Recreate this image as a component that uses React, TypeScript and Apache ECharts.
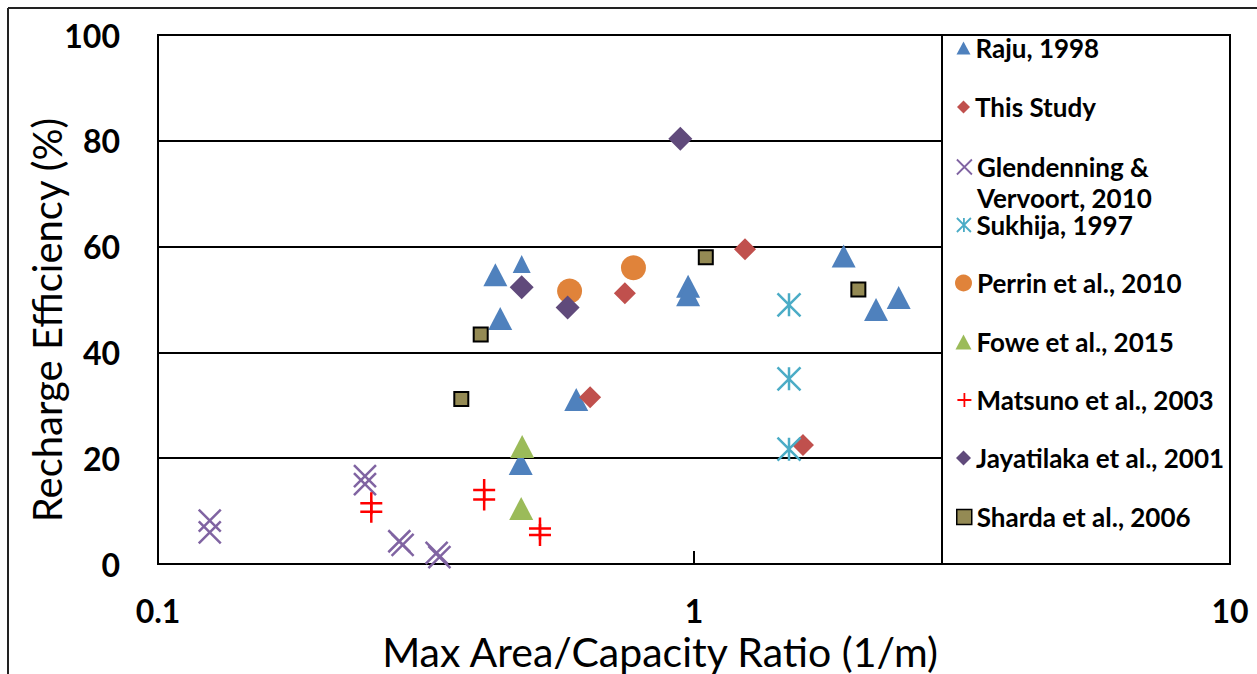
import React, { useEffect, useRef } from "react";
import * as echarts from "echarts";

// ---- data (x = Max Area/Capacity Ratio, y = Recharge Efficiency %) ----
const raju = [
  [0.426, 54.7], [0.477, 56.7], [0.435, 46.4], [0.475, 19.0], [0.603, 31.1],
  [0.975, 52.5], [0.975, 50.9], [1.902, 58.2], [2.186, 48.1], [2.409, 50.4],
];
const thisStudy = [[0.743, 51.2], [0.64, 31.5], [1.245, 59.5], [1.597, 22.5]];
const glendenning = [
  [0.1249, 8.2], [0.1249, 6.0], [0.2433, 16.6], [0.2433, 15.1],
  [0.282, 4.3], [0.286, 3.6], [0.331, 2.1], [0.335, 1.3],
];
const sukhija = [[1.504, 49.0], [1.504, 35.0], [1.504, 21.7]];
const perrin = [[0.586, 51.6], [0.771, 56.0]];
const fowe = [[0.478, 22.2], [0.476, 10.5]];
const matsuno = [
  [0.25, 11.5], [0.25, 9.9], [0.406, 14.0], [0.406, 12.2], [0.516, 6.7], [0.516, 5.5],
];
const jayatilaka = [[0.477, 52.3], [0.581, 48.5], [0.943, 80.4]];
const sharda = [[0.4, 43.4], [0.368, 31.2], [1.052, 58.0], [2.026, 51.9]];

const seriesNames = [
  "Raju, 1998",
  "This Study",
  "Glendenning & Vervoort, 2010",
  "Sukhija, 1997",
  "Perrin et al., 2010",
  "Fowe et al., 2015",
  "Matsuno et al., 2003",
  "Jayatilaka et al., 2001",
  "Sharda et al., 2006",
];
const legendLabels = [
  "Raju, 1998",
  "This Study",
  "Glendenning &",
  "Sukhija, 1997",
  "Perrin et al., 2010",
  "Fowe et al., 2015",
  "Matsuno et al., 2003",
  "Jayatilaka et al., 2001",
  "Sharda et al., 2006",
];
const yTitle = "Recharge Efficiency (%)";
const xTitle = "Max Area/Capacity Ratio (1/m)";

const CROSS = "path://M0,0L10,10M10,0L0,10";
const PLUS = "path://M5,0L5,10M0,5L10,5";
const STAR = "path://M0,0L10,10M10,0L0,10M5,0L5,10";

const FONT = "Lato, 'Open Sans', sans-serif";

export default function App() {
  const ref = useRef<HTMLDivElement>(null);
  useEffect(() => {
    if (!ref.current) return;
    const chart = echarts.init(ref.current, undefined, { renderer: "svg" });

    const seriesDefs: any[] = [
      { data: raju, symbol: "triangle", symbolSize: [24, 23], color: "#4F81BD",
        legend: { w: 14, h: 13 } },
      { data: thisStudy, symbol: "diamond", symbolSize: 22, color: "#C0504D",
        legend: { w: 13, h: 13 } },
      { data: glendenning, symbol: CROSS, symbolSize: 22, color: "#8064A2", stroke: 2.5,
        legend: { w: 15, h: 15, bw: 1.8 } },
      { data: sukhija, symbol: STAR, symbolSize: 23, color: "#4BACC6", stroke: 2.5,
        legend: { w: 15, h: 14, bw: 1.8 } },
      { data: perrin, symbol: "circle", symbolSize: 25, color: "#E0833A",
        legend: { w: 17, h: 17 } },
      { data: fowe, symbol: "triangle", symbolSize: [24, 23], color: "#9BBB59",
        legend: { w: 16, h: 15 } },
      { data: matsuno, symbol: PLUS, symbolSize: 22, color: "#FF0000", stroke: 2.5,
        legend: { w: 14, h: 14, bw: 1.8 } },
      { data: jayatilaka, symbol: "diamond", symbolSize: 24, color: "#604A7B",
        legend: { w: 15, h: 15 } },
      { data: sharda, symbol: "rect", symbolSize: 14, color: "#948A54", border: "#000", stroke: 2,
        legend: { w: 15, h: 15, bw: 1.5 } },
    ];

    const legendCenters = [48, 107, 167, 225, 283, 342, 400, 458, 517];

    const series = seriesDefs.map((s, i) => ({
      type: "scatter",
      name: seriesNames[i],
      data: s.data.map((d: number[], j: number) =>
        i === 0 && j === 1 ? { value: d, symbolSize: [18, 18] } : d
      ),
      symbol: s.symbol,
      symbolSize: s.symbolSize,
      itemStyle: {
        color: s.color,
        opacity: 1,
        borderColor: s.stroke ? s.border || s.color : undefined,
        borderWidth: s.stroke || 0,
      },
      emphasis: { disabled: true },
    }));

    const legends = seriesDefs.map((s, i) => ({
      show: true,
      orient: "vertical",
      left: 963.5 - s.legend.w / 2,
      top: legendCenters[i] - 15,
      padding: 0,
      itemGap: 0,
      z: 10,
      selectedMode: false,
      itemWidth: s.legend.w,
      itemHeight: s.legend.h,
      itemStyle: {
        color: s.color,
        opacity: 1,
        borderColor: s.stroke ? s.border || s.color : s.color,
        borderWidth: s.legend.bw || 0,
      },
      formatter: () => legendLabels[i],
      textStyle: {
        fontFamily: FONT,
        fontWeight: "bold",
        fontSize: 26,
        lineHeight: 30,
        color: "#000",
      },
      data: [{ name: seriesNames[i] }],
    }));

    const option: any = {
      animation: false,
      backgroundColor: "#fff",
      grid: {
        left: 158,
        right: 27,
        top: 35,
        bottom: 110,
        show: true,
        borderColor: "#000",
        borderWidth: 2,
        backgroundColor: "transparent",
        outerBoundsMode: "none",
      },
      xAxis: {
        type: "log",
        logBase: 10,
        min: 0.1,
        max: 10,
        axisLine: { show: true, lineStyle: { color: "#000", width: 2 } },
        axisTick: { show: true, inside: true, length: 13, lineStyle: { color: "#000", width: 2 } },
        minorTick: { show: false },
        splitLine: { show: false },
        axisLabel: {
          margin: 30,
          fontFamily: FONT,
          fontWeight: "bold",
          fontSize: 32,
          color: "#000",
          formatter: (v: number) => (v < 1 ? v.toFixed(1) : String(Math.round(v))),
        },
      },
      yAxis: {
        type: "value",
        min: 0,
        max: 100,
        interval: 20,
        axisLine: { show: true, lineStyle: { color: "#000", width: 2 } },
        axisTick: { show: false },
        splitLine: { show: true, lineStyle: { color: "#000", width: 2 } },
        axisLabel: {
          margin: 38,
          fontFamily: FONT,
          fontWeight: "bold",
          fontSize: 32,
          color: "#000",
        },
      },
      legend: legends,
      graphic: [
        {
          type: "line",
          shape: { x1: 8, y1: 8, x2: 1257, y2: 8 },
          style: { stroke: "#222", lineWidth: 2 },
          z: 1,
        },
        {
          type: "line",
          shape: { x1: 8, y1: 8, x2: 8, y2: 674 },
          style: { stroke: "#222", lineWidth: 2 },
          z: 1,
        },
        {
          type: "rect",
          shape: { x: 942, y: 35, width: 288, height: 529 },
          style: { fill: "#fff", stroke: "#000", lineWidth: 2 },
          z: 5,
        },
        {
          type: "text",
          x: 977,
          y: 198,
          z: 11,
          style: {
            text: "Vervoort, 2010",
            fontFamily: FONT,
            fontWeight: "bold",
            fontSize: 26,
            fill: "#000",
            textAlign: "left",
            textVerticalAlign: "middle",
          },
        },
        {
          type: "text",
          x: 47,
          y: 320,
          rotation: Math.PI / 2,
          z: 11,
          style: {
            text: yTitle,
            fontFamily: FONT,
            fontSize: 40,
            fill: "#000",
            textAlign: "center",
            textVerticalAlign: "middle",
          },
        },
        {
          type: "text",
          x: 660,
          y: 651,
          z: 11,
          style: {
            text: xTitle,
            fontFamily: FONT,
            fontSize: 41,
            fill: "#000",
            textAlign: "center",
            textVerticalAlign: "middle",
          },
        },
      ],
      series,
    };

    chart.setOption(option);
    return () => chart.dispose();
  }, []);

  return (
    <div
      ref={ref}
      style={{ position: "fixed", left: 0, top: 0, width: 1257, height: 674, background: "#fff" }}
    />
  );
}
